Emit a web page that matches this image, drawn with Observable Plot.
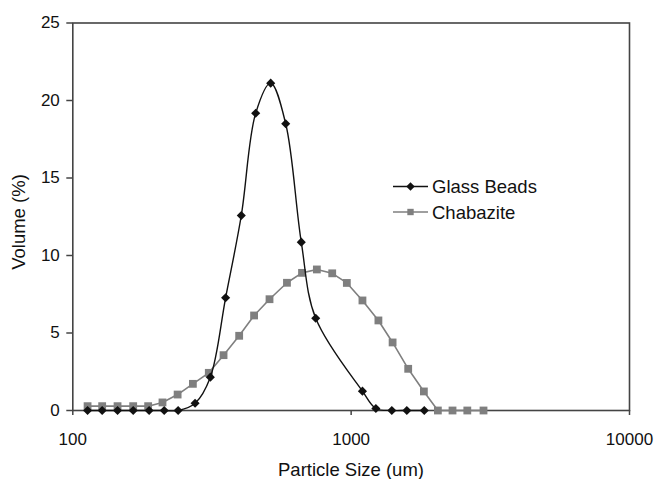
<!DOCTYPE html>
<html>
<head>
<meta charset="utf-8">
<script src="https://cdn.jsdelivr.net/npm/d3@7"></script>
<script src="https://cdn.jsdelivr.net/npm/@observablehq/plot@0.6"></script>
<style>
  html, body { margin: 0; padding: 0; background: #fff; }
  #chart svg { display: block; font-family: "Liberation Sans", Arial, sans-serif; }
</style>
</head>
<body>
<div id="chart"></div>
<script>
// Glass Beads
const glassSize = [113, 127.5, 144.8, 164.8, 188, 213, 239, 275, 312, 354, 403, 454, 514, 582, 662, 746, 1098, 1227, 1400, 1585, 1831];
const glassVolume = [0, 0, 0, 0, 0, 0, 0, 0.47, 2.15, 7.27, 12.58, 19.18, 21.12, 18.5, 10.86, 5.95, 1.25, 0.13, 0, 0, 0];
// Chabazite
const chabSize = [113, 127.5, 144.8, 164.8, 186.5, 210, 238, 270, 308, 348, 396, 448, 509, 588, 666, 753, 855, 965, 1098, 1253, 1409, 1603, 1825, 2049, 2313, 2614, 2989];
const chabVolume = [0.28, 0.28, 0.28, 0.28, 0.28, 0.52, 1.03, 1.72, 2.43, 3.57, 4.82, 6.13, 7.18, 8.24, 8.88, 9.10, 8.85, 8.23, 7.10, 5.81, 4.39, 2.69, 1.23, 0, 0, 0, 0];
// Axes
const xTicks = [100, 1000, 10000];
const yTicks = [0, 5, 10, 15, 20, 25];
const seriesNames = ["Glass Beads", "Chabazite"];
const xTitle = "Particle Size (um)";
const yTitle = "Volume (%)";

const glass = glassSize.map((s, i) => ({size: s, volume: glassVolume[i]}));
const chab = chabSize.map((s, i) => ({size: s, volume: chabVolume[i]}));

const W = 656, H = 479;
const mL = 72.3, mR = 27, mT = 22.5, mB = 69;
const gray = "#7f7f7f";
const axisColor = "#444";

const chart = Plot.plot({
  width: W, height: H,
  marginLeft: mL, marginRight: mR, marginTop: mT, marginBottom: mB,
  style: {fontFamily: "'Liberation Sans', Arial, sans-serif", background: "#fff", color: "#111"},
  x: {type: "log", domain: [100, 10000]},
  y: {domain: [0, 25]},
  marks: [
    Plot.axisY({ticks: yTicks, tickSize: 6, tickPadding: 7, fontSize: 17, label: null, stroke: axisColor, strokeWidth: 1.5}),
    Plot.axisX({ticks: xTicks, tickFormat: d => String(d), tickSize: 5, tickPadding: 17, fontSize: 17, label: null, stroke: axisColor, strokeWidth: 1.5}),
    Plot.frame({stroke: axisColor, strokeWidth: 1.6}),
    Plot.line(chab, {x: "size", y: "volume", stroke: gray, strokeWidth: 1.6}),
    Plot.dot(chab, {x: "size", y: "volume", symbol: "square", r: 4.4, fill: gray, stroke: "none"}),
    Plot.line(glass, {x: "size", y: "volume", stroke: "#111", strokeWidth: 1.4, curve: "catmull-rom"}),
    Plot.dot(glass, {x: "size", y: "volume", symbol: "diamond2", r: 4.1, fill: "#111", stroke: "none"})
  ]
});

const svg = d3.select(chart);
// axis titles
svg.append("text")
  .attr("x", 351).attr("y", 476)
  .attr("text-anchor", "middle")
  .attr("font-size", 18.5)
  .attr("fill", "#111")
  .text(xTitle);
svg.append("text")
  .attr("transform", "translate(18,222) rotate(-90)")
  .attr("text-anchor", "middle")
  .attr("dominant-baseline", "central")
  .attr("font-size", 18.5)
  .attr("fill", "#111")
  .text(yTitle);

// legend
const lg = svg.append("g").attr("text-anchor", "start");
const legendRows = [
  {name: seriesNames[0], color: "#111", sym: d3.symbolDiamond2, size: Math.PI * 3.8 * 3.8, y: 186.5},
  {name: seriesNames[1], color: gray, sym: d3.symbolSquare, size: Math.PI * 3.6 * 3.6, y: 212}
];
legendRows.forEach(r => {
  lg.append("line").attr("x1", 393).attr("x2", 428).attr("y1", r.y).attr("y2", r.y)
    .attr("stroke", r.color).attr("stroke-width", 1.6);
  lg.append("path").attr("d", d3.symbol(r.sym, r.size)()).attr("transform", `translate(410.5,${r.y})`)
    .attr("fill", r.color);
  lg.append("text").attr("x", 432).attr("y", r.y).attr("dominant-baseline", "central")
    .attr("text-anchor", "start")
    .attr("font-size", 18.5).attr("fill", "#111").text(r.name);
});

document.getElementById("chart").appendChild(chart);
</script>
</body>
</html>
